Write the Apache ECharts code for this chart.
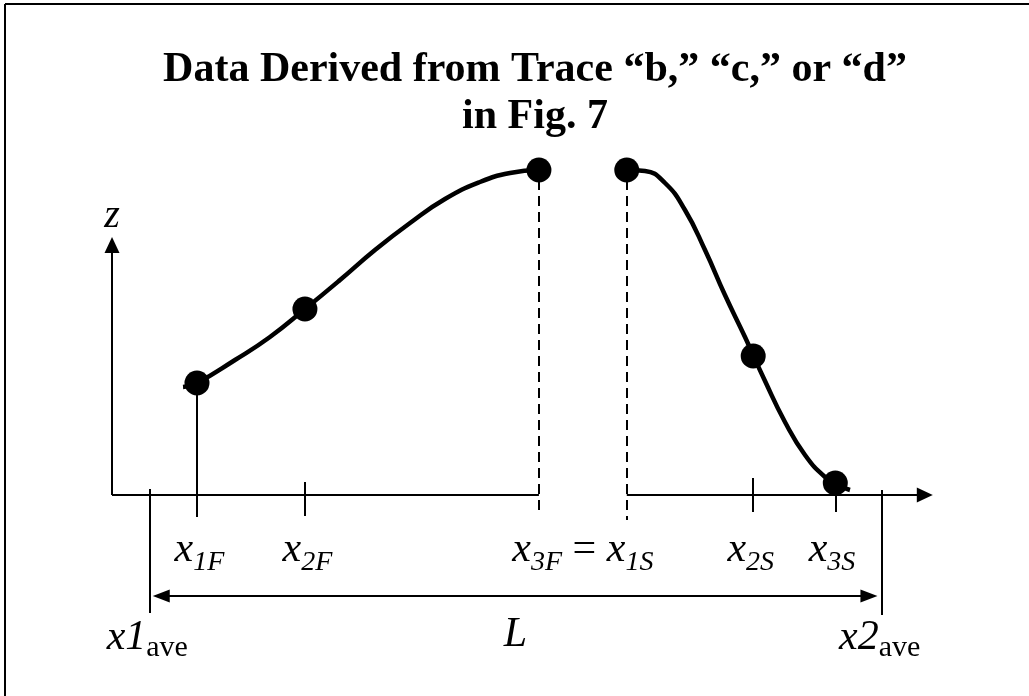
<!DOCTYPE html>
<html>
<head>
<meta charset="utf-8">
<title>Data Derived from Trace</title>
<script src="https://cdn.jsdelivr.net/npm/echarts@6/dist/echarts.min.js"></script>
<style>
html,body{margin:0;padding:0;background:#fff;}
#chart{width:1029px;height:696px;}
</style>
</head>
<body>
<div id="chart"></div>
<script>
// traced curve, first side (x, z)
const frontX = [8.65, 10.35, 14.98, 19.24, 23.51, 27.77, 32.03, 36.30, 40.56, 44.82, 48.48, 52.0];
const frontZ = [43.2, 44.8, 54.0, 63.2, 74.4, 86.0, 98.0, 108.8, 118.4, 125.2, 128.8, 130];
// traced curve, second side
const backX = [62.7, 64.92, 67.36, 69.79, 72.23, 74.66, 77.10, 79.54, 81.97, 84.41, 86.85, 88.67, 89.89];
const backZ = [130, 129.6, 124.8, 114.0, 98.0, 80.0, 63.2, 45.6, 29.2, 16.0, 7.2, 3.6, 2.0];
// picked points
const pointNames = ['x1F', 'x2F', 'x3F', 'x1S', 'x2S', 'x3S'];
const pointX = [10.35, 23.5, 52.0, 62.7, 78.1, 88.1];
const pointZ = [44.8, 74.4, 130, 130, 55.6, 4.8];
// averaged ends
const aveNames = ['x1', 'x2'];
const aveX = [4.6, 93.7];
const axisEnd = [99.0, 100];   // x, z arrow ends

const chartDom = document.getElementById('chart');
const myChart = echarts.init(chartDom);

const FONT = 'Liberation Serif';
const black = '#000';

function zip(a, b) {
    return a.map(function (v, i) { return [v, b[i]]; });
}
function seg(x1, z1, x2, z2, extra) {
    const s = [{ coord: [x1, z1], symbol: 'none' }, { coord: [x2, z2], symbol: 'none' }];
    if (extra) Object.assign(s[0], extra);
    return s;
}
const arrowX = { symbol: 'triangle', symbolSize: [15, 16] };
const arrowL = { symbol: 'triangle', symbolSize: [13, 17] };
const dashed = { lineStyle: { type: [10, 6], width: 2, color: black } };

// axis lines, ticks, dimension arrow
const lines = [
    seg(0, 0, pointX[2], 0),
    [{ coord: [pointX[3], 0], symbol: 'none' }, Object.assign({ coord: [axisEnd[0], 0] }, arrowX)],
    [{ coord: [0, 0], symbol: 'none' }, Object.assign({ coord: [0, axisEnd[1]] }, arrowX)],
    seg(pointX[0], pointZ[0], pointX[0], -8.8),
    seg(pointX[1], 5.2, pointX[1], -8.4),
    seg(pointX[2], pointZ[2] - 4, pointX[2], -8, dashed),
    seg(pointX[3], pointZ[3] - 4, pointX[3], -10, dashed),
    seg(pointX[4], 6.8, pointX[4], -6.8),
    seg(pointX[5], pointZ[5], pointX[5], -6.8),
    seg(aveX[0], 2.4, aveX[0], -47.2),
    seg(aveX[1], 2, aveX[1], -48),
    [Object.assign({ coord: [aveX[0] + 1.4, -40.4] }, arrowL), Object.assign({ coord: [aveX[1] - 1.5, -40.4] }, arrowL)]
];

const rich = {
    i: { fontFamily: FONT, fontStyle: 'italic', fontSize: 42, lineHeight: 54, color: black },
    s: { fontFamily: FONT, fontStyle: 'italic', fontSize: 28, lineHeight: 28, verticalAlign: 'bottom', color: black },
    n: { fontFamily: FONT, fontSize: 42, lineHeight: 54, color: black },
    b: { fontFamily: FONT, fontStyle: 'italic', fontWeight: 'bold', fontSize: 38, lineHeight: 46, color: black },
    zl: { fontFamily: FONT, fontStyle: 'italic', fontSize: 40, lineHeight: 46, color: black },
    m: { fontFamily: FONT, fontStyle: 'italic', fontSize: 42, lineHeight: 50, color: black },
    a: { fontFamily: FONT, fontSize: 30, lineHeight: 30, verticalAlign: 'bottom', color: black }
};
function sub(name) {
    return '{i|' + name.charAt(0) + '}{s|' + name.slice(1) + '}';
}
const labelZ = -22;
const labels = [
    { value: [pointX[0] + 0.3, labelZ], text: sub(pointNames[0]) },
    { value: [pointX[1] + 0.3, labelZ], text: sub(pointNames[1]) },
    { value: [(pointX[2] + pointX[3]) / 2, labelZ], text: sub(pointNames[2]) + '{n| = }' + sub(pointNames[3]) },
    { value: [pointX[4] - 0.3, labelZ], text: sub(pointNames[4]) },
    { value: [pointX[5] - 0.4, labelZ], text: sub(pointNames[5]) },
    { value: [aveX[0] - 0.3, -57.2], text: '{m|' + aveNames[0] + '}{a|ave}' },
    { value: [aveX[1] - 0.2, -57.2], text: '{m|' + aveNames[1] + '}{a|ave}' },
    { value: [(aveX[0] + aveX[1]) / 2, -56], text: '{m|L}' },
    { value: [axisEnd[0] + 4.2, -0.4], text: '{b|x}' },
    { value: [0, axisEnd[1] + 11.6], text: '{zl|z}' }
];

const option = {
    animation: false,
    backgroundColor: '#fff',
    title: {
        text: 'Data Derived from Trace \u201cb,\u201d \u201cc,\u201d or \u201cd\u201d\nin Fig. 7',
        left: 530,
        top: 42,
        textAlign: 'center',
        textStyle: {
            fontFamily: FONT,
            fontWeight: 'bold',
            fontSize: 42,
            lineHeight: 47,
            color: black
        }
    },
    grid: { left: 112, right: 96, top: 145, bottom: 26 },
    xAxis: { type: 'value', min: 0, max: 100, show: false },
    yAxis: { type: 'value', min: -70, max: 140, show: false },
    graphic: [
        { type: 'line', shape: { x1: 5, y1: 4, x2: 1029, y2: 4 }, style: { stroke: black, lineWidth: 2 } },
        { type: 'line', shape: { x1: 5, y1: 4, x2: 5, y2: 696 }, style: { stroke: black, lineWidth: 2 } }
    ],
    series: [
        {
            name: 'front',
            type: 'line',
            data: zip(frontX, frontZ),
            smooth: 0.5,
            symbol: 'none',
            lineStyle: { color: black, width: 4.5 },
            markLine: {
                silent: true,
                symbol: 'none',
                label: { show: false },
                lineStyle: { color: black, width: 2, type: 'solid' },
                data: lines
            }
        },
        {
            name: 'back',
            type: 'line',
            data: zip(backX, backZ),
            smooth: 0.5,
            symbol: 'none',
            lineStyle: { color: black, width: 4.5 }
        },
        {
            name: 'points',
            type: 'scatter',
            data: zip(pointX, pointZ),
            symbolSize: 25,
            itemStyle: { color: black, opacity: 1 },
            z: 5
        },
        {
            name: 'labels',
            type: 'scatter',
            symbolSize: 1,
            itemStyle: { color: 'rgba(0,0,0,0)', opacity: 1 },
            silent: true,
            data: labels.map(function (d) {
                return { value: d.value, label: { formatter: d.text } };
            }),
            label: { show: true, position: 'inside', color: black, opacity: 1, rich: rich }
        }
    ]
};

myChart.setOption(option);
window.addEventListener('resize', () => { myChart.resize(); });
</script>
</body>
</html>
